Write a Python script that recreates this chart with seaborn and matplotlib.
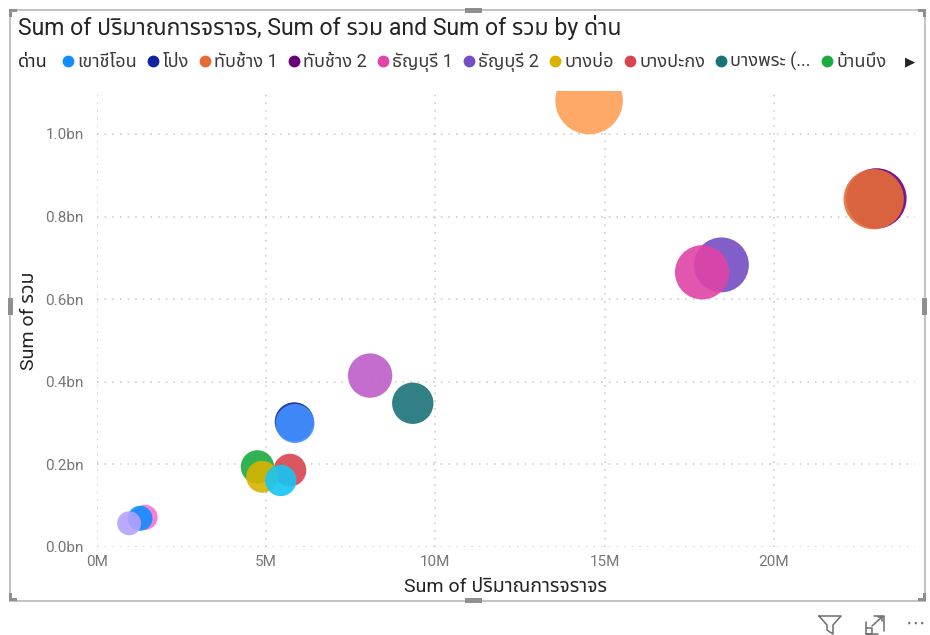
import matplotlib
matplotlib.use("Agg")
import matplotlib.pyplot as plt
from matplotlib.lines import Line2D
from matplotlib.patches import Rectangle
from matplotlib.ticker import FuncFormatter, MultipleLocator
import numpy as np
import pandas as pd
import seaborn as sns

# Toll plazas, in legend order
plazas = [
    "เขาชีโอน", "โป่ง", "ทับช้าง 1", "ทับช้าง 2", "ธัญบุรี 1", "ธัญบุรี 2",
    "บางบ่อ", "บางปะกง", "บางพระ (ชลบุรี)", "บ้านบึง",
    "พนัสนิคม", "พานทอง", "ลาดกระบัง", "ศรีราชา", "หนองขาม", "อ่าวอุดม",
]
# Sum of traffic volume (vehicles)
traffic = [
    1.27e6, 5.83e6, 22.95e6, 23.03e6, 17.88e6, 18.45e6,
    4.88e6, 5.70e6, 9.33e6, 4.74e6,
    5.43e6, 5.85e6, 14.54e6, 8.07e6, 1.42e6, 0.95e6,
]
# Sum of total revenue (baht) -- used for y and bubble size
total = [
    0.0694e9, 0.303e9, 0.842e9, 0.844e9, 0.665e9, 0.683e9,
    0.170e9, 0.186e9, 0.348e9, 0.194e9,
    0.161e9, 0.299e9, 1.081e9, 0.415e9, 0.0718e9, 0.0574e9,
]
colors = [
    "#118DFF", "#12239E", "#E66C37", "#6B007B", "#E044A7", "#744EC2",
    "#D9B300", "#D64550", "#197278", "#1AAB40",
    "#15C6F4", "#4092FF", "#FFA058", "#BE5DC9", "#F472D0", "#B5A1FF",
]

sns.set_theme(style="white")
FONT = ["Roboto", "Noto Sans Thai", "Anuphan", "DejaVu Sans"]
plt.rcParams["font.family"] = FONT

df = pd.DataFrame({"ด่าน": plazas, "traffic": traffic, "total": total})
# larger bubbles first so smaller ones sit on top
df = df.sort_values("total", ascending=False)

W, H = 930, 635
fig = plt.figure(figsize=(W / 100, H / 100), dpi=100)
ax = fig.add_axes([97 / W, 1 - 547 / H, (915 - 97) / W, (547 - 91) / H])

sns.scatterplot(
    data=df, x="traffic", y="total", hue="ด่าน", hue_order=plazas,
    palette=colors, size="total", sizes=(298, 2368), alpha=0.9,
    linewidth=0, legend=False, ax=ax, clip_on=True,
)

ax.set_xlim(0, 24.17e6)
ax.set_ylim(0, 1.104e9)
ax.xaxis.set_major_locator(MultipleLocator(5e6))
ax.yaxis.set_major_locator(MultipleLocator(0.2e9))
ax.xaxis.set_major_formatter(FuncFormatter(lambda v, p: f"{v / 1e6:.0f}M"))
ax.yaxis.set_major_formatter(FuncFormatter(lambda v, p: f"{v / 1e9:.1f}bn"))
for s in ax.spines.values():
    s.set_visible(False)
ax.grid(True, color="#C8C6C4", linestyle=(0, (1, 4)), linewidth=1.1)
ax.set_axisbelow(True)
ax.tick_params(axis="both", length=0, labelsize=11, colors="#777777")
ax.tick_params(axis="y", pad=9.5)
ax.tick_params(axis="x", pad=5.5)

ax.set_xlabel("Sum of ปริมาณการจราจร", fontsize=14, color="#252423")
ax.set_ylabel("Sum of รวม", fontsize=14, color="#252423")
ax.xaxis.set_label_coords(0.499, -0.0875)
ax.xaxis.label.set_va("center")
ax.yaxis.set_label_coords(-0.083, 0.496)
ax.yaxis.label.set_va("center")

# title
fig.text(18 / W, 1 - 27 / H, "Sum of ปริมาณการจราจร, Sum of รวม and Sum of รวม by ด่าน",
         fontsize=16.6, color="#252423", va="center", ha="left")

# legend (first page of entries)
fig.text(18 / W, 1 - 62 / H, "ด่าน", fontsize=13, color="#252423",
         fontweight="bold", va="center", ha="left")

def short(name):
    return name if len(name) <= 12 else name[:8] + "..."

handles = [
    Line2D([], [], marker="o", linestyle="", markersize=8.5,
           markerfacecolor=c, markeredgewidth=0, label=short(n))
    for n, c in zip(plazas[:10], colors[:10])
]
fig.legend(handles=handles, loc="center left", bbox_to_anchor=(62 / W, 1 - 62 / H),
           ncol=10, frameon=False, fontsize=13, labelcolor="#3A3A3A",
           handlelength=0.7, handletextpad=0.15, columnspacing=0.55,
           borderaxespad=0, borderpad=0)
fig.text(910 / W, 1 - 62 / H, "▶", fontsize=9.5, color="#252423",
         va="center", ha="center", family="DejaVu Sans")

# visual frame with resize handles
def px_rect(x, y, w, h, **kw):
    fig.patches.append(Rectangle((x / W, 1 - (y + h) / H), w / W, h / H,
                                 transform=fig.transFigure, **kw))

px_rect(10, 10, 915, 591, fill=False, edgecolor="#C2C2C2", linewidth=1.4)
hc = "#8F8F8F"
for (x, y, w, h) in [
    (9, 9, 8, 3), (9, 9, 3, 8),            # top-left
    (918, 9, 8, 3), (923, 9, 3, 8),        # top-right
    (9, 598, 8, 3), (9, 593, 3, 8),        # bottom-left
    (918, 598, 8, 3), (923, 593, 3, 8),    # bottom-right
    (465, 8, 17, 5), (465, 598, 17, 5),    # top / bottom middle
    (8, 298, 5, 17), (922, 298, 5, 17),    # left / right middle
]:
    px_rect(x, y, w, h, facecolor=hc, edgecolor="none")

# header icons: filter, focus mode, more options
def px_line(xs, ys, **kw):
    fig.lines.append(Line2D([x / W for x in xs], [1 - y / H for y in ys],
                            transform=fig.transFigure, color="#6E6E6E",
                            linewidth=1.1, **kw))

px_line([819, 841, 833, 833, 827, 827, 819], [616, 616, 625, 634, 630, 625, 616])
px_line([866, 866, 878], [622, 634, 634])
px_line([866, 872, 872, 866], [628, 628, 634, 634])
px_line([874, 884, 884], [616, 616, 631])
px_line([872, 882], [626, 617])
px_line([878, 882, 882], [617, 617, 621])
fig.text(915 / W, 1 - 623 / H, "⋯", fontsize=14, color="#6E6E6E",
         va="center", ha="center", family="DejaVu Sans")

fig.savefig("out.png", dpi=100)
